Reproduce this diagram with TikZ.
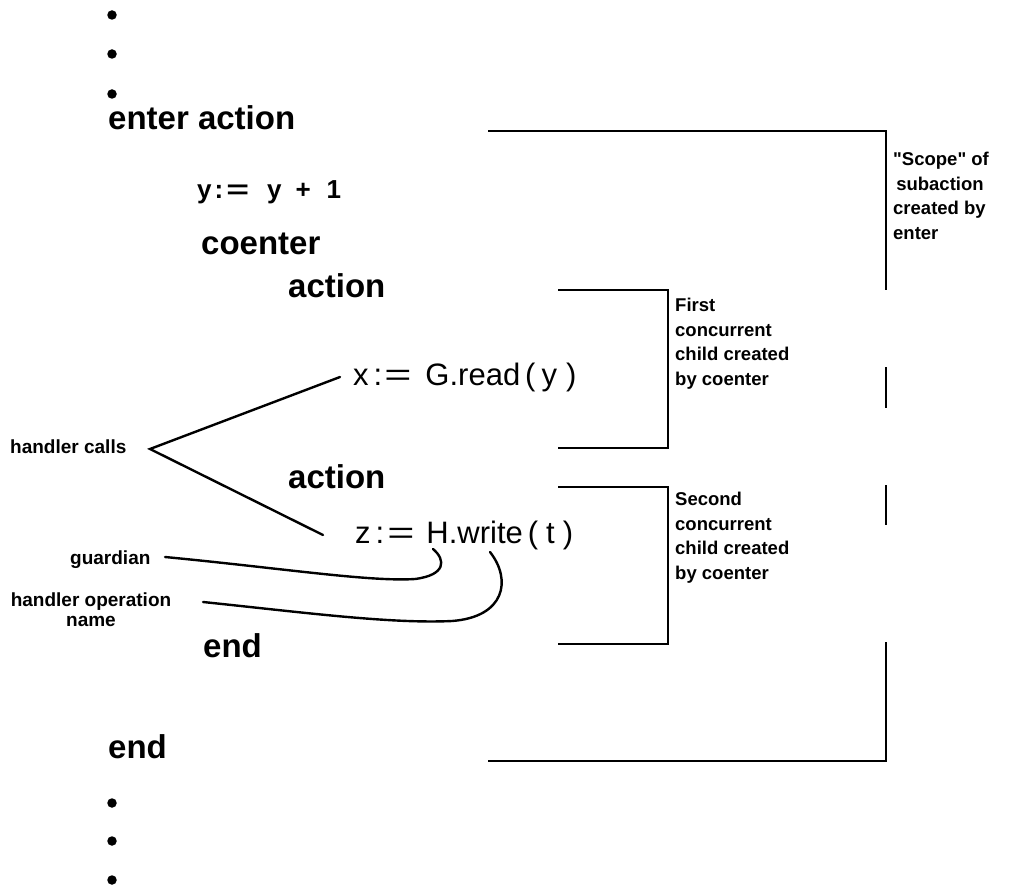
\documentclass[tikz,border=0pt]{standalone}
\usepackage{fontspec}
\setmainfont{Liberation Sans}
\newfontfamily\lsans{Liberation Sans}
\begin{document}
\begin{tikzpicture}[x=1pt,y=-1pt,
  kw/.style={font=\fontsize{33}{36}\selectfont\bfseries, anchor=base west, inner sep=0pt},
  stmt/.style={font=\fontsize{31}{34}\selectfont, anchor=base west, inner sep=0pt},
  lab/.style={font=\lsans\fontsize{18.5}{24.5}\selectfont\bfseries, anchor=north west, inner sep=0pt, align=left},
  llab/.style={font=\fontsize{19}{20}\selectfont\bfseries, inner sep=0pt},
  brk/.style={line width=2.5pt},
  lead/.style={line width=2.4pt, line cap=round},
  dot/.style={circle, fill=black, inner sep=0pt, minimum size=9.5pt}]
\useasboundingbox (0,0) rectangle (1019,890);
% dots
\node[dot] (d1) at (112,15) {};
\node[dot] (d2) at (112,54) {};
\node[dot] (d3) at (112,94) {};
\node[dot] (d4) at (112,803) {};
\node[dot] (d5) at (112,841) {};
\node[dot] (d6) at (112,880) {};
% program text
\node[kw] (enter) at (108,130) {enter action};
\node[kw, font=\fontsize{26}{30}\selectfont\bfseries] (yinc) at (197,199) {y\hspace{3pt}:\hspace{3pt}\scalebox{1.5}[1]{=}\hspace{18pt}y\hspace{14pt}+\hspace{16pt}1};
\node[kw] (coenter) at (201,255) {coenter};
\node[kw] (act1) at (288,298) {action};
\node[stmt] (xs) at (353,385) {x\hspace{5pt}:\hspace{2pt}\scalebox{1.5}[1]{=}\hspace{14pt}G.read\hspace{5pt}(\hspace{6pt}y\hspace{9pt})};
\node[kw] (act2) at (288,488) {action};
\node[stmt] (zs) at (355,543) {z\hspace{5pt}:\hspace{3pt}\scalebox{1.5}[1]{=}\hspace{12pt}H.write\hspace{5pt}(\hspace{8pt}t\hspace{8pt})};
\node[kw] (end1) at (203,657) {end};
\node[kw] (end2) at (108,758) {end};
% brackets
\draw[brk] (488,131) -- (886,131) -- (886,290);
\draw[brk] (886,367) -- (886,408);
\draw[brk] (886,485) -- (886,525);
\draw[brk] (886,642) -- (886,761) -- (488,761);
\draw[brk] (558,290) -- (668,290) -- (668,448) -- (558,448);
\draw[brk] (558,487) -- (668,487) -- (668,644) -- (558,644);
% right labels
\node[lab] (scope) at (893,152) {"Scope" of\\\,subaction\\created by\\enter};
\node[lab] (first) at (675,298) {First\\concurrent\\child created\\by coenter};
\node[lab] (second) at (675,492) {Second\\concurrent\\child created\\by coenter};
% left labels
\node[llab, anchor=west] (hc) at (10,447) {handler calls};
\node[llab, anchor=west] (gd) at (70,560) {guardian};
\node[llab, anchor=north, align=center] (hop) at (91,593) {handler operation\\name};
% leader coordinates
\coordinate (hcv) at (150,449);
\coordinate (xe) at (340,377);
\coordinate (ze) at (323,535);
\coordinate (g0) at (165,557);
\coordinate (ge) at (433,549);
\coordinate (h0) at (203,602);
\coordinate (he) at (490,552);
\draw[lead] (xe) -- (hcv) -- (ze);
\draw[lead] (g0) .. controls (280,568) and (370,582) .. (415,579) .. controls (446,575) and (446,560) .. (ge);
\draw[lead] (h0) .. controls (300,612) and (390,624) .. (452,621) .. controls (505,617) and (512,580) .. (he);
\end{tikzpicture}
\end{document}
